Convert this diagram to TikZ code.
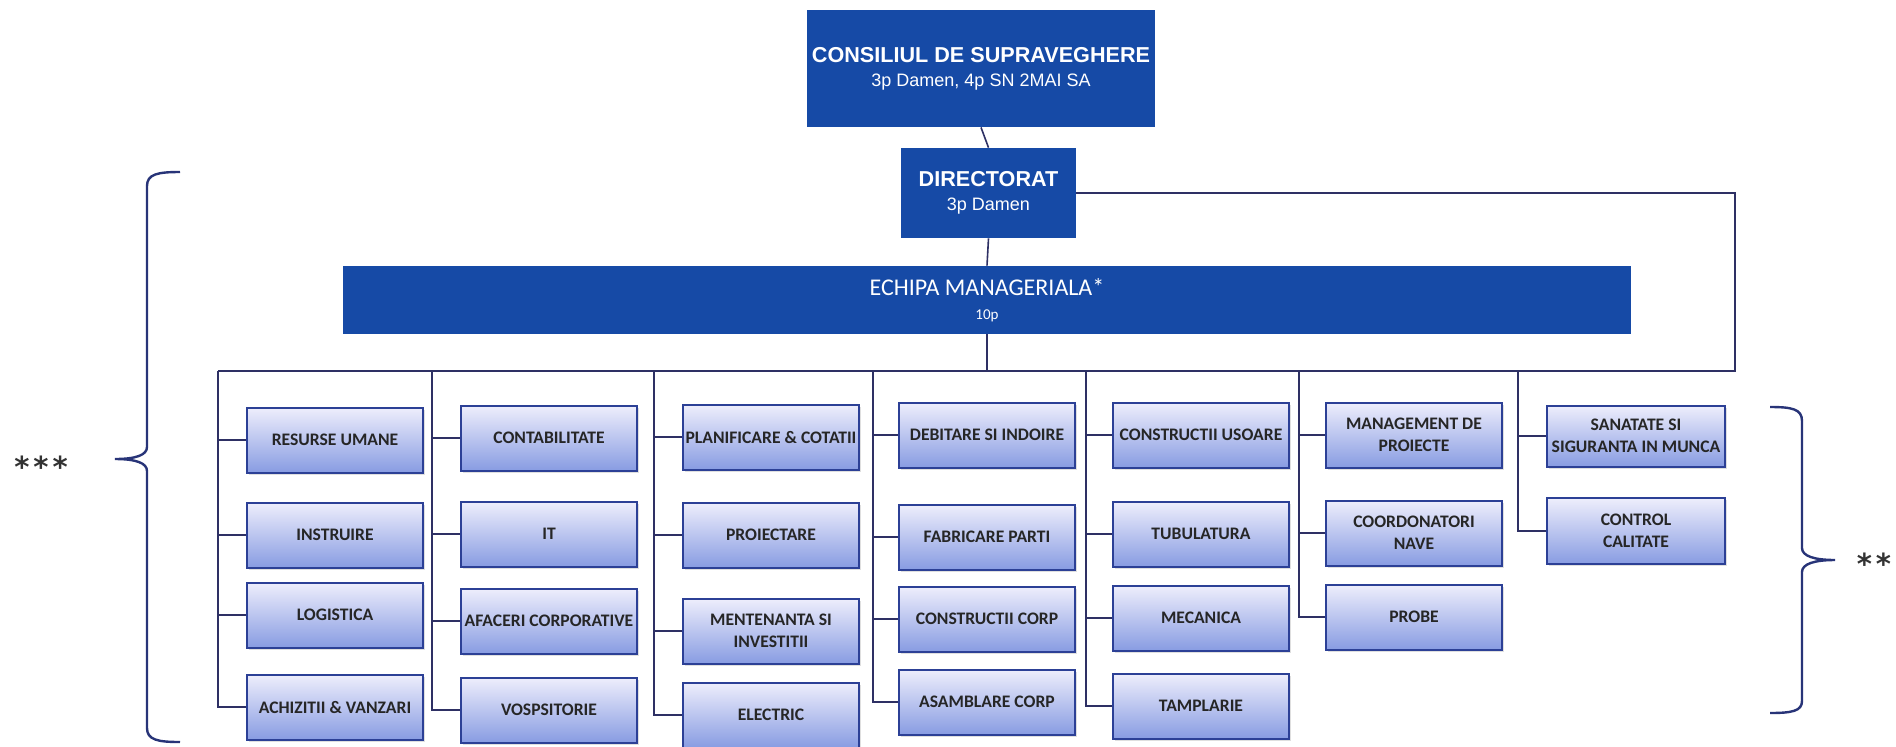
\documentclass[tikz,border=0pt]{standalone}
\usepackage{fontspec}
\setmainfont{Carlito}
\newfontfamily\headfont{Liberation Sans}
\newfontfamily\starfont{DejaVu Sans}
\usetikzlibrary{shadows}

\definecolor{headblue}{RGB}{22,74,166}
\definecolor{depttop}{RGB}{238,238,252}
\definecolor{deptbottom}{RGB}{136,156,226}
\definecolor{deptline}{RGB}{44,64,150}
\definecolor{linkcol}{RGB}{46,48,100}
\definecolor{bracecol}{RGB}{40,52,120}

\tikzset{
  headbox/.style={fill=headblue, text=white, align=center, inner sep=0pt, font=\headfont},
  dept/.style={draw=deptline, line width=1pt, top color=depttop, bottom color=deptbottom,
    minimum width=88pt, minimum height=32.5pt, inner sep=0pt, align=center, text=black!85,
    font=\fontsize{8.8}{11}\selectfont\bfseries,
    drop shadow={opacity=0.25, shadow xshift=1pt, shadow yshift=-1pt}},
  link/.style={draw=linkcol, line width=0.8pt},
  bracket/.style={draw=bracecol, line width=1.2pt},
  stars/.style={text=black!80, font=\starfont\fontsize{14.5}{14.5}\selectfont\bfseries, inner sep=0pt}
}

\begin{document}
\begin{tikzpicture}[x=0.5pt,y=-0.5pt]
        \path[fill=white,use as bounding box] (0,0) rectangle (1896,746);

        \node[headbox, minimum width=174pt, minimum height=58.5pt] (board) at (981,68.5)
            {\fontsize{10.8}{12.5}\selectfont\bfseries CONSILIUL DE SUPRAVEGHERE\\\fontsize{9}{12.5}\selectfont\mdseries 3p Damen, 4p SN 2MAI SA};
        \node[headbox, minimum width=87.5pt, minimum height=45pt] (director) at (988.5,193)
            {\fontsize{10.8}{12.5}\selectfont\bfseries DIRECTORAT\\\fontsize{9}{12.5}\selectfont\mdseries 3p Damen};
        \node[headbox, font=\rmfamily, minimum width=644pt, minimum height=34pt] (team) at (987,300)
            {\fontsize{12}{12}\selectfont ECHIPA MANAGERIALA*\\\fontsize{7.5}{12}\selectfont 10p};

        \coordinate (busL) at (218,371);
        \coordinate (busR) at (1735,371);
        \coordinate (k1) at (218,371);
        \coordinate (k2) at (432,371);
        \coordinate (k3) at (654,371);
        \coordinate (k4) at (873,371);
        \coordinate (k5) at (1086,371);
        \coordinate (k6) at (1299,371);
        \coordinate (k7) at (1518,371);

        \draw[link] (board.south) -- (director.north);
        \draw[link] (director.south) -- (team.north);
        \draw[link] (team.south) -- (team.south |- busL);
        \draw[link] (busL) -- (busR) |- (director.east);

        \node[dept] (hr) at (335,440) {RESURSE UMANE};
        \node[dept] (training) at (335,535) {INSTRUIRE};
        \node[dept] (logistics) at (335,615) {LOGISTICA};
        \node[dept] (purchasing) at (335,707) {ACHIZITII \& VANZARI};

        \node[dept] (accounting) at (549,438) {CONTABILITATE};
        \node[dept] (it) at (549,534) {IT};
        \node[dept] (corporate) at (549,621) {AFACERI CORPORATIVE};
        \node[dept] (painting) at (549,710) {VOSPSITORIE};

        \node[dept] (planning) at (771,437) {PLANIFICARE \& COTATII};
        \node[dept] (design) at (771,535) {PROIECTARE};
        \node[dept] (upkeep) at (771,631) {MENTENANTA SI\\INVESTITII};
        \node[dept] (electric) at (771,715) {ELECTRIC};

        \node[dept] (cutting) at (987,435) {DEBITARE SI INDOIRE};
        \node[dept] (parts) at (987,537) {FABRICARE PARTI};
        \node[dept] (hullbuild) at (987,619) {CONSTRUCTII CORP};
        \node[dept] (hullassy) at (987,702) {ASAMBLARE CORP};

        \node[dept] (lightbuild) at (1201,435) {CONSTRUCTII USOARE};
        \node[dept] (piping) at (1201,534) {TUBULATURA};
        \node[dept] (mechanic) at (1201,618) {MECANICA};
        \node[dept] (joinery) at (1201,706) {TAMPLARIE};

        \node[dept] (projects) at (1414,435) {MANAGEMENT DE\\PROIECTE};
        \node[dept] (shipcoord) at (1414,533) {COORDONATORI\\NAVE};
        \node[dept] (trials) at (1414,617) {PROBE};

        \node[dept, minimum width=89pt, minimum height=30.5pt] (safety) at (1636,436) {SANATATE SI\\SIGURANTA IN MUNCA};
        \node[dept, minimum width=89pt, minimum height=33pt] (quality) at (1636,531) {CONTROL\\CALITATE};

        \draw[link] (k1) |- (hr.west) (k1) |- (training.west) (k1) |- (logistics.west) (k1) |- (purchasing.west);
        \draw[link] (k2) |- (accounting.west) (k2) |- (it.west) (k2) |- (corporate.west) (k2) |- (painting.west);
        \draw[link] (k3) |- (planning.west) (k3) |- (design.west) (k3) |- (upkeep.west) (k3) |- (electric.west);
        \draw[link] (k4) |- (cutting.west) (k4) |- (parts.west) (k4) |- (hullbuild.west) (k4) |- (hullassy.west);
        \draw[link] (k5) |- (lightbuild.west) (k5) |- (piping.west) (k5) |- (mechanic.west) (k5) |- (joinery.west);
        \draw[link] (k6) |- (projects.west) (k6) |- (shipcoord.west) (k6) |- (trials.west);
        \draw[link] (k7) |- (safety.west) (k7) |- (quality.west);

        \draw[bracket] (180,172) .. controls (158,172) and (147,174) .. (147,186) -- (147,447)
            .. controls (147,455) and (136,459) .. (115,459)
            .. controls (136,459) and (147,463) .. (147,471) -- (147,728)
            .. controls (147,740) and (158,742) .. (180,742);
        \draw[bracket] (1770,407) .. controls (1792,407) and (1802,409) .. (1802,421) -- (1802,548)
            .. controls (1802,556) and (1814,560) .. (1835,560)
            .. controls (1814,560) and (1802,564) .. (1802,572) -- (1802,701)
            .. controls (1802,711) and (1792,713) .. (1770,713);

        \node[stars] (groupA) at (41,467) {*\kern2pt*\kern2pt*};
        \node[stars] (groupB) at (1874,564) {*\kern2pt*};
\end{tikzpicture}
\end{document}
